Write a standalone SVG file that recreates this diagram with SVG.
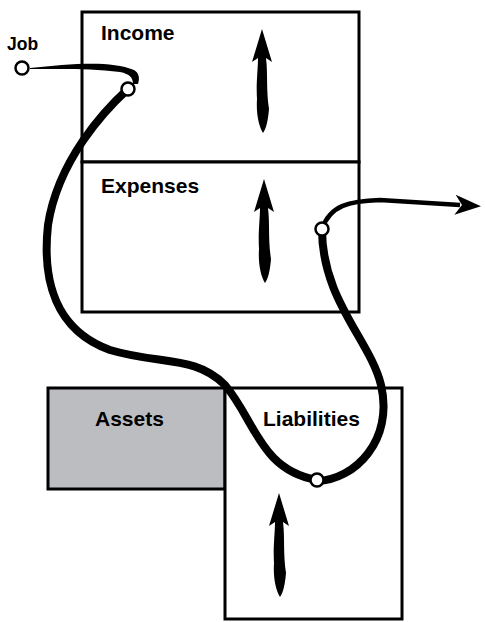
<svg xmlns="http://www.w3.org/2000/svg" width="485" height="622" viewBox="0 0 485 622">
<style>
.box{fill:#fff;stroke:#000;stroke-width:3}
.grey{fill:#bcbdc0;stroke:#000;stroke-width:3}
.lbl{font-family:"Liberation Sans",Arial,Helvetica,sans-serif;font-weight:bold;font-size:21px;fill:#000}
.flow{fill:none;stroke:#000;stroke-width:8;stroke-linecap:round}
.dot{fill:#fff;stroke:#000;stroke-width:2.5}
</style>
<defs>
<path id="up" d="M0,0 L10,33 L4,29 C6,45 4,60 7,80 C6,92 4,100 1,104 C-3,98 -6,85 -5,70 C-6,55 -4,40 -4,29 L-10,33 Z" fill="#000"/>
<marker id="ah" viewBox="0 0 26 20" refX="5" refY="10" markerWidth="26" markerHeight="20" markerUnits="userSpaceOnUse" orient="auto">
<path d="M0,0 L26,10 L0,20 L7,10 Z" fill="#000"/>
</marker>
</defs>
<g id="income">
<rect class="box" x="82" y="12" width="277" height="150"/>
<text class="lbl" x="101" y="40">Income</text>
<use href="#up" x="262" y="29"/>
</g>
<g id="expenses">
<rect class="box" x="82" y="162" width="277" height="150"/>
<text class="lbl" x="101" y="193">Expenses</text>
<use href="#up" x="264" y="179"/>
</g>
<g id="assets">
<rect class="grey" x="48" y="388" width="177" height="101"/>
<text class="lbl" x="95" y="426">Assets</text>
</g>
<g id="liabilities">
<rect class="box" x="225" y="388" width="177" height="231"/>
<text class="lbl" x="263" y="426">Liabilities</text>
<use href="#up" x="279" y="493"/>
</g>
<g id="job">
<text class="lbl" x="7" y="50" style="font-size:17.5px">Job</text>
</g>
<g id="connectors">
<path d="M30,68 C70,64 110,60 134,70 C139,73 140,78 138,84 L133,84 C133,78 130,74 120,72 C90,68 60,69 30,69 Z" fill="#000"/>
<path class="flow" d="M128,89 C105,110 58,160 48,225 C42,280 55,330 110,350 C160,365 195,355 225,385 C255,420 260,470 317,480"/>
<path class="flow" d="M317,481 C355,480 394,440 381,385 C370,340 322,300 322,229"/>
<path fill="none" stroke="#000" stroke-width="4.5" d="M322,229 C330,205 350,201 380,200 L460,205" marker-end="url(#ah)"/>
</g>
<g id="dots">
<circle class="dot" cx="22" cy="68" r="6.5"/>
<circle class="dot" cx="128" cy="89" r="6.5"/>
<circle class="dot" cx="322" cy="229" r="6.5"/>
<circle class="dot" cx="317" cy="480" r="6.5"/>
</g>
</svg>
